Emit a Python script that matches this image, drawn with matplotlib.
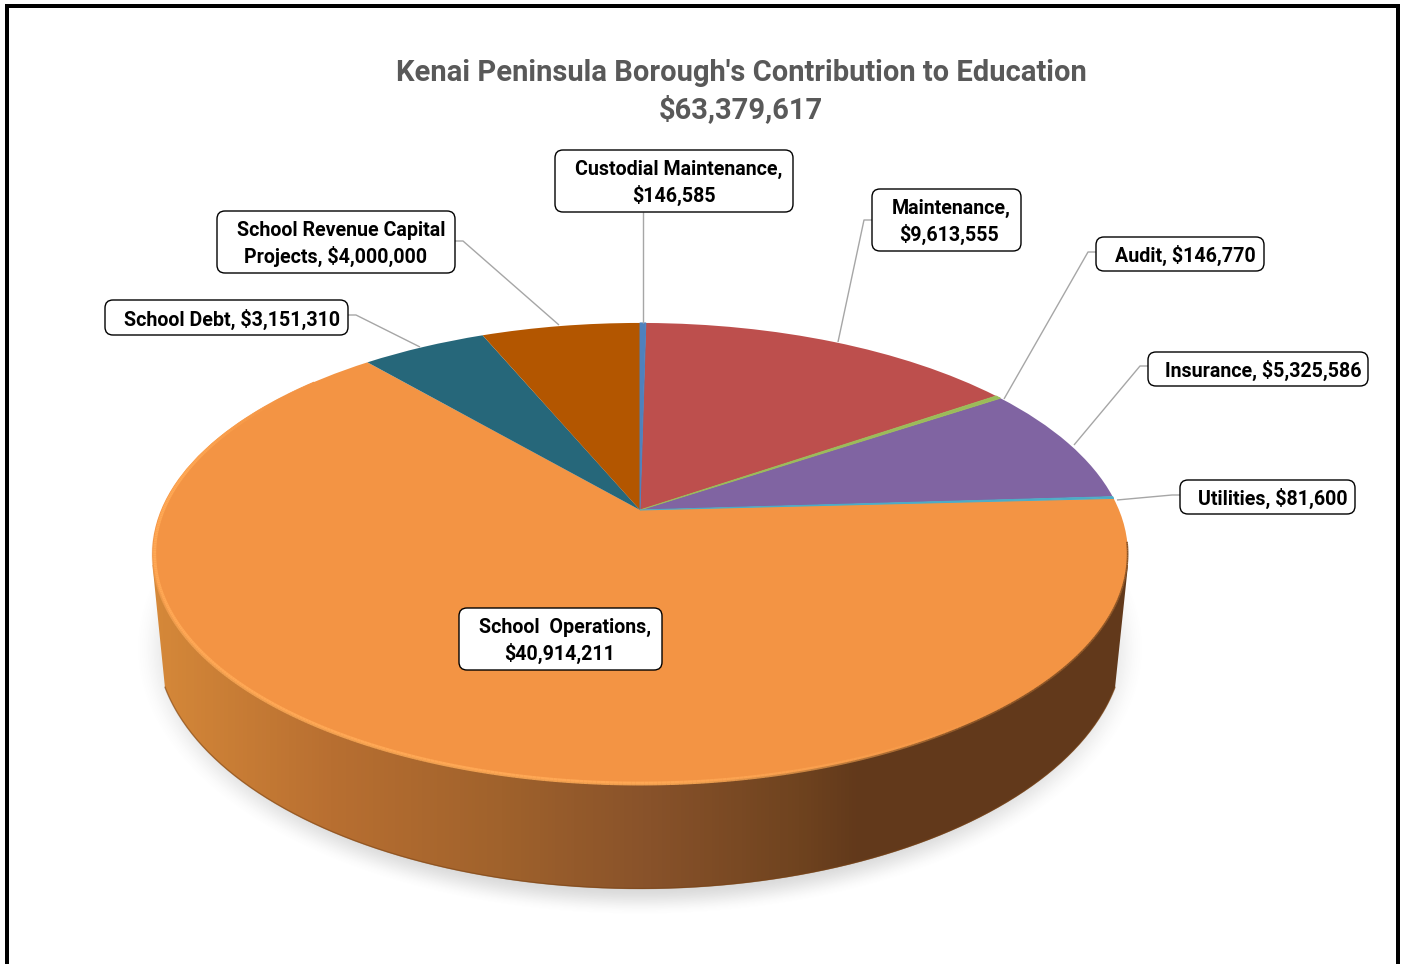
import numpy as np
import matplotlib
matplotlib.use("Agg")
import matplotlib.pyplot as plt
from matplotlib.transforms import Transform
from matplotlib.patches import FancyBboxPatch, Rectangle, PathPatch
from matplotlib.path import Path
from matplotlib.collections import LineCollection
from matplotlib.colors import LinearSegmentedColormap, to_rgb

# ---------- data ----------
categories = ["Custodial Maintenance", "Maintenance", "Audit", "Insurance", "Utilities",
              "School  Operations", "School Debt", "School Revenue Capital Projects"]
values = [146585, 9613555, 146770, 5325586, 81600, 40914211, 3151310, 4000000]
slice_colors = ["#4F81BD", "#BD4F4D", "#9BBB59", "#8064A2", "#4BACC6", "#F39444", "#26677A", "#B35600"]
title_lines = ["Kenai Peninsula Borough's Contribution to Education", "$63,379,617"]
label_lines = [["Custodial Maintenance,", "$146,585"], ["Maintenance,", "$9,613,555"],
               ["Audit, $146,770"], ["Insurance, $5,325,586"], ["Utilities, $81,600"],
               ["School  Operations,", "$40,914,211"], ["School Debt, $3,151,310"],
               ["School Revenue Capital", "Projects, $4,000,000"]]
# box: left, top, right, bottom (pixels)
label_boxes = [(555, 150, 793, 212), (872, 189, 1021, 251), (1096, 237, 1264, 271),
               (1148, 352, 1368, 386), (1180, 480, 1355, 514), (459, 608, 662, 670),
               (105, 300, 348, 335), (217, 211, 455, 273)]
label_text_x = [(679, 674), (951, 949), (1185,), (1263,), (1273,), (565, 560), (232,), (341, 336)]
leaders = [[(643, 212), (643, 323)],
           [(872, 220), (864, 220), (838, 342)],
           [(1096, 252), (1088, 252), (1004, 399)],
           [(1148, 366), (1140, 366), (1074, 445)],
           [(1180, 495), (1172, 495), (1117, 500)],
           None,
           [(348, 315), (356, 315), (420, 347)],
           [(455, 241), (463, 241), (559, 325)]]
thin_slices = ["Custodial Maintenance", "Audit", "Utilities"]

W, H = 1405, 964
plt.rcParams['font.family'] = ['Roboto', 'DejaVu Sans']
fig = plt.figure(figsize=(W / 100, H / 100), dpi=100, facecolor="white")
ax = fig.add_axes([0, 0, 1, 1])


class Perspective(Transform):
    """Tilted-disc projection of the unit-circle pie onto pixel coordinates."""
    input_dims = output_dims = 2
    is_affine = False
    has_inverse = False
    cx, cy, bx, ay, c = 640.0, 510.0, 479.0, 222.6, 0.19

    def transform_non_affine(self, v):
        v = np.asarray(v, float)
        d = 1 + self.c * v[:, 1]
        return np.column_stack([self.cx + self.bx * v[:, 0] / d, self.cy - self.ay * v[:, 1] / d])


persp = Perspective()

wedges, _ = ax.pie(values, colors=slice_colors, startangle=90, counterclock=False, radius=1.0,
                   wedgeprops=dict(linewidth=0, zorder=5))
ax.set_aspect("auto")
ax.set_xlim(0, W)
ax.set_ylim(H, 0)
ax.axis("off")
to_px = persp + ax.transData
for w, name, col in zip(wedges, categories, slice_colors):
    w.set_transform(to_px)
    w.set_clip_on(False)
    if name in thin_slices:
        w.set_edgecolor(col)
        w.set_linewidth(0.7)
        w.set_zorder(5.5)

# ---------- soft shadow under the disc ----------
yy, xx = np.mgrid[0:H, 0:W] + 0.5
d = np.sqrt(((xx - 640) / 506) ** 2 + ((yy - 648) / 268) ** 2)
a = np.clip((1.0 - d) / 0.11, 0, 1)
a = a * a * (3 - 2 * a) * 0.27
shadow = np.zeros((H, W, 4))
shadow[..., :3] = 0.45
shadow[..., 3] = a
ax.imshow(shadow, extent=(0, W, H, 0), aspect="auto", zorder=1, interpolation="bilinear")

# ---------- side wall with horizontal shading ----------
t0 = np.arccos(475 / 484)
t = np.linspace(np.pi - t0, t0, 300)
low_x, low_y = 640 + 484 * np.cos(t), 640 + 249 * np.sin(t)
wall = np.column_stack([np.r_[low_x, 1128, 152.5], np.r_[low_y, 565, 565]])
wall_patch = PathPatch(Path(wall), transform=ax.transData, fc="none", ec="none")
ax.add_patch(wall_patch)
stops = [(155, "#D58839"), (330, "#B86F31"), (500, "#A0622C"), (650, "#88522A"),
         (800, "#6F431F"), (860, "#62391B"), (1130, "#62391B")]
cmap = LinearSegmentedColormap.from_list(
    "wall", [((x - 155) / (1130 - 155), c) for x, c in stops])
grad = cmap(np.clip((np.arange(W) - 155) / (1130 - 155), 0, 1))[None, :, :]
im = ax.imshow(grad, extent=(0, W, H, 0), aspect="auto", zorder=2)
im.set_clip_path(wall_patch)
# darker lower lip of the wall
ax.plot(low_x, low_y - 0.5, color="#7A4416", lw=1.0, alpha=0.55, zorder=3)

ax.set_xlim(0, W)
ax.set_ylim(H, 0)

# ---------- bevel along the front rim ----------
ang = np.radians(np.linspace(140, 352, 500))
deg = np.degrees(ang[:-1])
light, base, dark = map(np.array, map(to_rgb, ("#FFA855", "#F39444", "#8A5426")))
rim_inner = np.column_stack([np.cos(ang), np.sin(ang)]) * 0.995
rim_pts = persp.transform_non_affine(rim_inner)
segs = np.stack([rim_pts[:-1], rim_pts[1:]], axis=1)
frac = np.clip((deg - 270) / 40, 0, 1) + np.clip((170 - deg) / 25, 0, 1)
cols = light[None, :] * (1 - frac[:, None]) + base[None, :] * frac[:, None]
ax.add_collection(LineCollection(segs, colors=cols, linewidths=2.2, zorder=6))
rim_outer = persp.transform_non_affine(np.column_stack([np.cos(ang), np.sin(ang)]) * 0.9995)
segs2 = np.stack([rim_outer[:-1], rim_outer[1:]], axis=1)
frac2 = np.clip((deg - 275) / 30, 0, 1)
cols2 = np.array(to_rgb("#F0A050"))[None, :] * (1 - frac2[:, None]) + dark[None, :] * frac2[:, None]
alpha2 = np.clip((deg - 185) / 25, 0, 1)[:, None]
ax.add_collection(LineCollection(segs2, colors=np.hstack([cols2, alpha2]), linewidths=1.2, zorder=6))

# ---------- leader lines ----------
for pts in leaders:
    if pts:
        xs, ys = zip(*pts)
        ax.plot(xs, ys, color="#A6A6A6", lw=1.0, zorder=7, solid_capstyle="butt")

# ---------- data labels ----------
for lines, (l, t_, r, b), xs in zip(label_lines, label_boxes, label_text_x):
    ax.add_patch(FancyBboxPatch((l + 8, t_ + 8), r - l - 16, b - t_ - 16,
                                boxstyle="round,pad=8,rounding_size=8", fc="white", ec="black",
                                lw=1.0, zorder=8))
    mid = (t_ + b) / 2
    for i, (line, x) in enumerate(zip(lines, xs)):
        y = mid + (i - (len(lines) - 1) / 2) * 26 + 1.5
        ax.text(x, y, line, ha="center", va="center", fontsize=14.15, fontweight="bold",
                color="black", zorder=9)

# ---------- title ----------
for line, y in zip(title_lines, (73, 110)):
    ax.text(741, y, line, ha="center", va="center", fontsize=21.0, fontweight="bold",
            color="#595959", zorder=9)

# ---------- frame ----------
for x, y, w_, h_ in [(5, 4, 1395, 4), (5, 4, 4, H), (1396, 4, 4, H)]:
    ax.add_patch(Rectangle((x, y), w_, h_, fc="black", ec="none", zorder=10, clip_on=False))

fig.savefig("out.png", dpi=100, facecolor="white")
